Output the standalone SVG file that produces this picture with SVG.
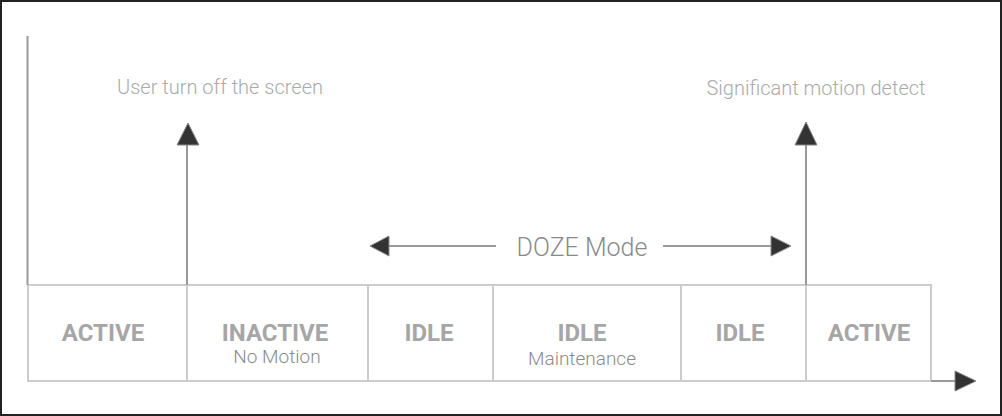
<svg xmlns="http://www.w3.org/2000/svg" width="1002" height="416" viewBox="0 0 1002 416">
<style>
.state{font-family:Roboto,"Liberation Sans",sans-serif;font-weight:700;font-size:24px;fill:#a6a6a6;text-anchor:middle}
.sub{font-family:Roboto,"Liberation Sans",sans-serif;font-weight:300;font-size:19px;fill:#8a8a8a;text-anchor:middle}
.lbl{font-family:Roboto,"Liberation Sans",sans-serif;font-weight:300;font-size:20px;fill:#aaaaaa;text-anchor:middle}
.doze{font-family:Roboto,"Liberation Sans",sans-serif;font-weight:300;font-size:25px;fill:#8a8a8a;text-anchor:middle}
.cell{fill:#fff;stroke:#cccccc;stroke-width:2}
.ln{stroke:#999;stroke-width:2;fill:none}
.head{fill:#333;stroke:#888;stroke-width:1}
</style>
<rect x="1" y="1" width="1000" height="414" fill="#fff" stroke="#222" stroke-width="2"/>
<g id="states">
<g id="s1"><rect class="cell" x="28" y="285" width="159" height="96"/><text class="state" x="103" y="341">ACTIVE</text></g>
<g id="s2"><rect class="cell" x="187" y="285" width="181" height="96"/><text class="state" x="275" y="341">INACTIVE</text><text class="sub" x="277" y="363">No Motion</text></g>
<g id="s3"><rect class="cell" x="368" y="285" width="125" height="96"/><text class="state" x="429" y="341">IDLE</text></g>
<g id="s4"><rect class="cell" x="493" y="285" width="188" height="96"/><text class="state" x="582" y="341">IDLE</text><text class="sub" x="582" y="365">Maintenance</text></g>
<g id="s5"><rect class="cell" x="681" y="285" width="125" height="96"/><text class="state" x="740" y="341">IDLE</text></g>
<g id="s6"><rect class="cell" x="806" y="285" width="125" height="96"/><text class="state" x="869" y="341">ACTIVE</text></g>
</g>
<g id="labels">
<text class="lbl" x="220" y="94">User turn off the screen</text>
<text class="lbl" x="816" y="95">Significant motion detect</text>
<text class="doze" x="582" y="256">DOZE Mode</text>
</g>
<g id="connectors">
<line class="ln" x1="27.5" y1="36" x2="27.5" y2="285"/>
<line class="ln" x1="931" y1="381" x2="956" y2="381"/>
<polygon class="head" points="955,371 976,381 955,391"/>
<line class="ln" x1="187" y1="285" x2="187" y2="145"/>
<polygon class="head" points="177,145 188,123 199,145"/>
<line class="ln" x1="806" y1="285" x2="806" y2="145"/>
<polygon class="head" points="795,145 806,122 817,145"/>
<line class="ln" x1="388" y1="246" x2="496" y2="246"/>
<polygon class="head" points="389,236 370,246 389,256"/>
<line class="ln" x1="663" y1="246" x2="772" y2="246"/>
<polygon class="head" points="771,236 791,246 771,256"/>
</g>
</svg>
